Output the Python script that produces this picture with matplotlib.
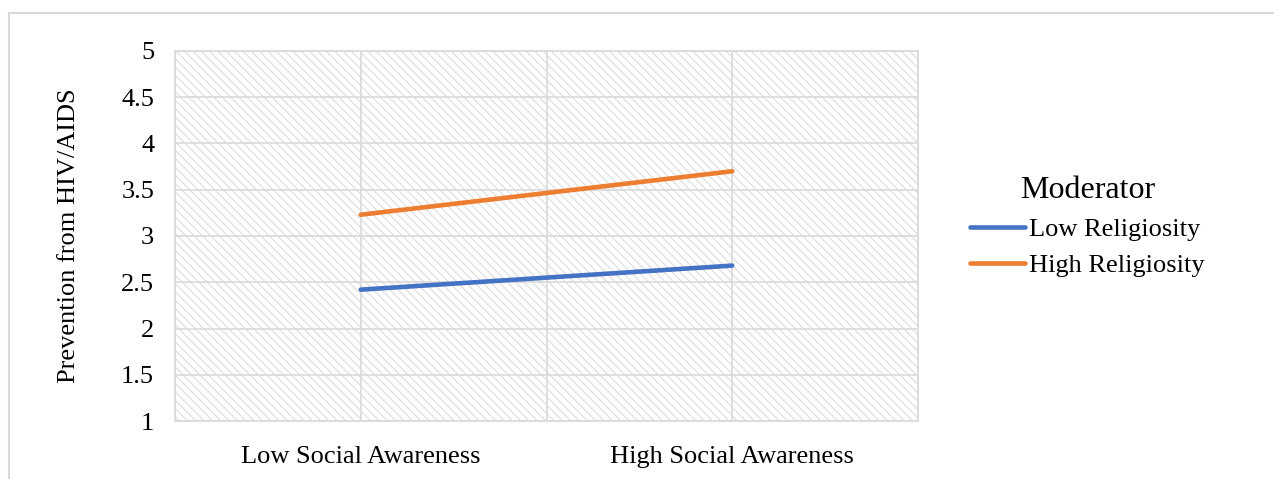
import matplotlib.pyplot as plt
from matplotlib.patches import Rectangle
from matplotlib.lines import Line2D

# Simple slopes: prevention score at low/high social awareness, by religiosity
categories = ['Low Social Awareness', 'High Social Awareness']
low_religiosity = [2.42, 2.68]
high_religiosity = [3.23, 3.70]
series_names = ['Low Religiosity', 'High Religiosity']
y_ticks = [1, 1.5, 2, 2.5, 3, 3.5, 4, 4.5, 5]

plt.rcParams['font.family'] = ['Liberation Serif', 'DejaVu Serif']
plt.rcParams['hatch.color'] = '#dcdcdc'
plt.rcParams['hatch.linewidth'] = 0.8

grid_col = '#d9d9d9'

fig = plt.figure(figsize=(12.74, 4.79), dpi=100)
ax = fig.add_axes([175 / 1274, 1 - 421 / 479, 743 / 1274, 370 / 479])

# hatched plot area background
ax.add_patch(Rectangle((0, 0), 1, 1, transform=ax.transAxes, facecolor='white',
                       edgecolor='#dcdcdc', linewidth=0, hatch='\\\\\\\\', zorder=0))

x = list(range(len(categories)))
ax.plot(x, low_religiosity, color='#4472C4', linewidth=3.3, solid_capstyle='round',
        label=series_names[0], zorder=3)
ax.plot(x, high_religiosity, color='#ED7D31', linewidth=3.3, solid_capstyle='round',
        label=series_names[1], zorder=3)

ax.set_xlim(-0.5, 1.5)
ax.set_ylim(1, 5)
ax.set_yticks(y_ticks)
ax.set_yticklabels([f'{t:g}' for t in y_ticks])
ax.set_xticks(x)
ax.set_xticklabels(categories)
ax.tick_params(length=0, labelsize=19, colors='black')
ax.tick_params(axis='y', pad=15)
ax.tick_params(axis='x', pad=18)

# gridlines in both directions
for yv in y_ticks:
    ax.axhline(yv, color=grid_col, linewidth=1.2, zorder=1)
for xv in [-0.5, 0, 0.5, 1, 1.5]:
    ax.axvline(xv, color=grid_col, linewidth=1.2, zorder=1)
for s in ax.spines.values():
    s.set_color(grid_col)
    s.set_linewidth(1.2)

ax.set_ylabel('Prevention from HIV/AIDS', fontsize=19)
ax.yaxis.set_label_coords(-95 / 743, 0.5)

leg = fig.legend(loc='upper left', bbox_to_anchor=(970 / 1274, 1 - 176 / 479),
                 frameon=False, fontsize=19, title='Moderator', title_fontsize=23,
                 handlelength=2.1, handletextpad=0.15, labelspacing=0.47,
                 borderaxespad=0, borderpad=0)

# outer chart border (runs off the right and bottom edges)
fig.add_artist(Line2D([8.5 / 1274, 8.5 / 1274], [0, 1 - 12.5 / 479],
                      color=grid_col, linewidth=1.5))
fig.add_artist(Line2D([8.5 / 1274, 1], [1 - 12.5 / 479, 1 - 12.5 / 479],
                      color=grid_col, linewidth=1.5))

fig.savefig('out.png', dpi=100, facecolor='white')
